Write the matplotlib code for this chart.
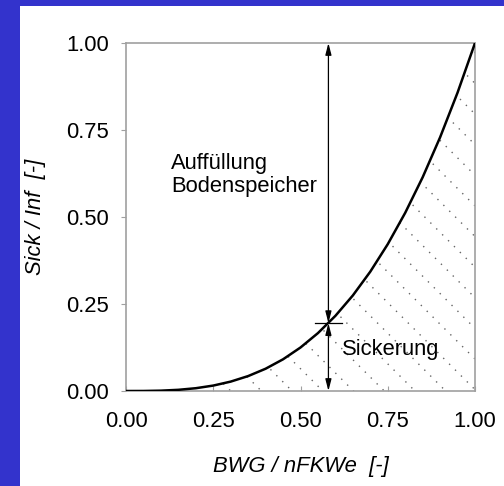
import matplotlib.pyplot as plt
import numpy as np
from matplotlib.patches import Rectangle, Polygon

plt.rcParams['font.family'] = ['Liberation Sans', 'DejaVu Sans']

# curve
bwg = [0.0, 0.05, 0.1, 0.15, 0.2, 0.25, 0.3, 0.35, 0.4, 0.45, 0.5,
       0.55, 0.6, 0.65, 0.7, 0.75, 0.8, 0.85, 0.9, 0.95, 1.0]
sick = [0.0, 0.0001, 0.001, 0.0034, 0.008, 0.0156, 0.027, 0.0429, 0.064, 0.0911, 0.125,
        0.1664, 0.216, 0.2746, 0.343, 0.4219, 0.512, 0.6141, 0.729, 0.8574, 1.0]
ticks = [0.0, 0.25, 0.5, 0.75, 1.0]
tick_labels = ["0.00", "0.25", "0.50", "0.75", "1.00"]
x_mark, y_mark = 0.58, 0.195

blue = '#3333cc'
grey = '#a0a0a0'
fs = 15.8

fig = plt.figure(figsize=(5.04, 4.86), dpi=100, facecolor=blue)
fig.patches.append(Rectangle((20 / 504, 0), 1 - 20 / 504, 480 / 486,
                             transform=fig.transFigure, facecolor='white',
                             edgecolor='none', zorder=-5))
ax = fig.add_axes([126 / 504, 1 - 391 / 486, 349 / 504, 348 / 486])

ax.set_xlim(0, 1)
ax.set_ylim(0, 1)

# dotted hatching under the curve
poly = Polygon(list(zip(bwg, sick)) + [(1.0, 0.0)], closed=True,
               facecolor='none', edgecolor='none')
ax.add_patch(poly)
for c in np.arange(0.30, 2.1, 0.088):
    ln, = ax.plot([c - 1.2, c + 0.2], [1.2, -0.2], color='#666666', lw=1.0,
                  linestyle=(0, (1, 5)))
    ln.set_clip_path(poly)

ax.plot(bwg, sick, color='black', lw=1.8, zorder=3)

# arrows
arrow = dict(arrowstyle='<|-|>,head_length=0.7,head_width=0.18', color='black',
             lw=0.9, shrinkA=0, shrinkB=0, mutation_scale=10)
ax.annotate('', xy=(x_mark, 1.0), xytext=(x_mark, y_mark), arrowprops=arrow)
ax.annotate('', xy=(x_mark, 0.0), xytext=(x_mark, y_mark), arrowprops=arrow)
ax.plot([x_mark - 0.038, x_mark + 0.038], [y_mark, y_mark], color='black', lw=0.9)

ax.text(0.13, 0.62, "Auffüllung\nBodenspeicher", fontsize=fs, ha='left',
        va='center', linespacing=1.15)
ax.text(0.619, 0.118, "Sickerung", fontsize=fs, ha='left', va='center')

ax.set_xticks(ticks)
ax.set_xticklabels(tick_labels)
ax.set_yticks(ticks)
ax.set_yticklabels(tick_labels)
ax.tick_params(axis='x', direction='in', length=3.5, color=grey, labelsize=fs, pad=14.5)
ax.tick_params(axis='y', direction='out', length=3.6, color=grey, labelsize=fs, pad=8.5)
for s in ax.spines.values():
    s.set_color(grey)
    s.set_linewidth(1.2)

ax.set_xlabel("BWG / nFKWe  [-]", fontsize=fs, style='italic')
ax.set_ylabel("Sick / Inf  [-]", fontsize=fs, style='italic')
ax.xaxis.set_label_coords(0.5, -0.187)
ax.yaxis.set_label_coords(-0.229, 0.5)

fig.savefig('out.png', dpi=100, facecolor=blue)
